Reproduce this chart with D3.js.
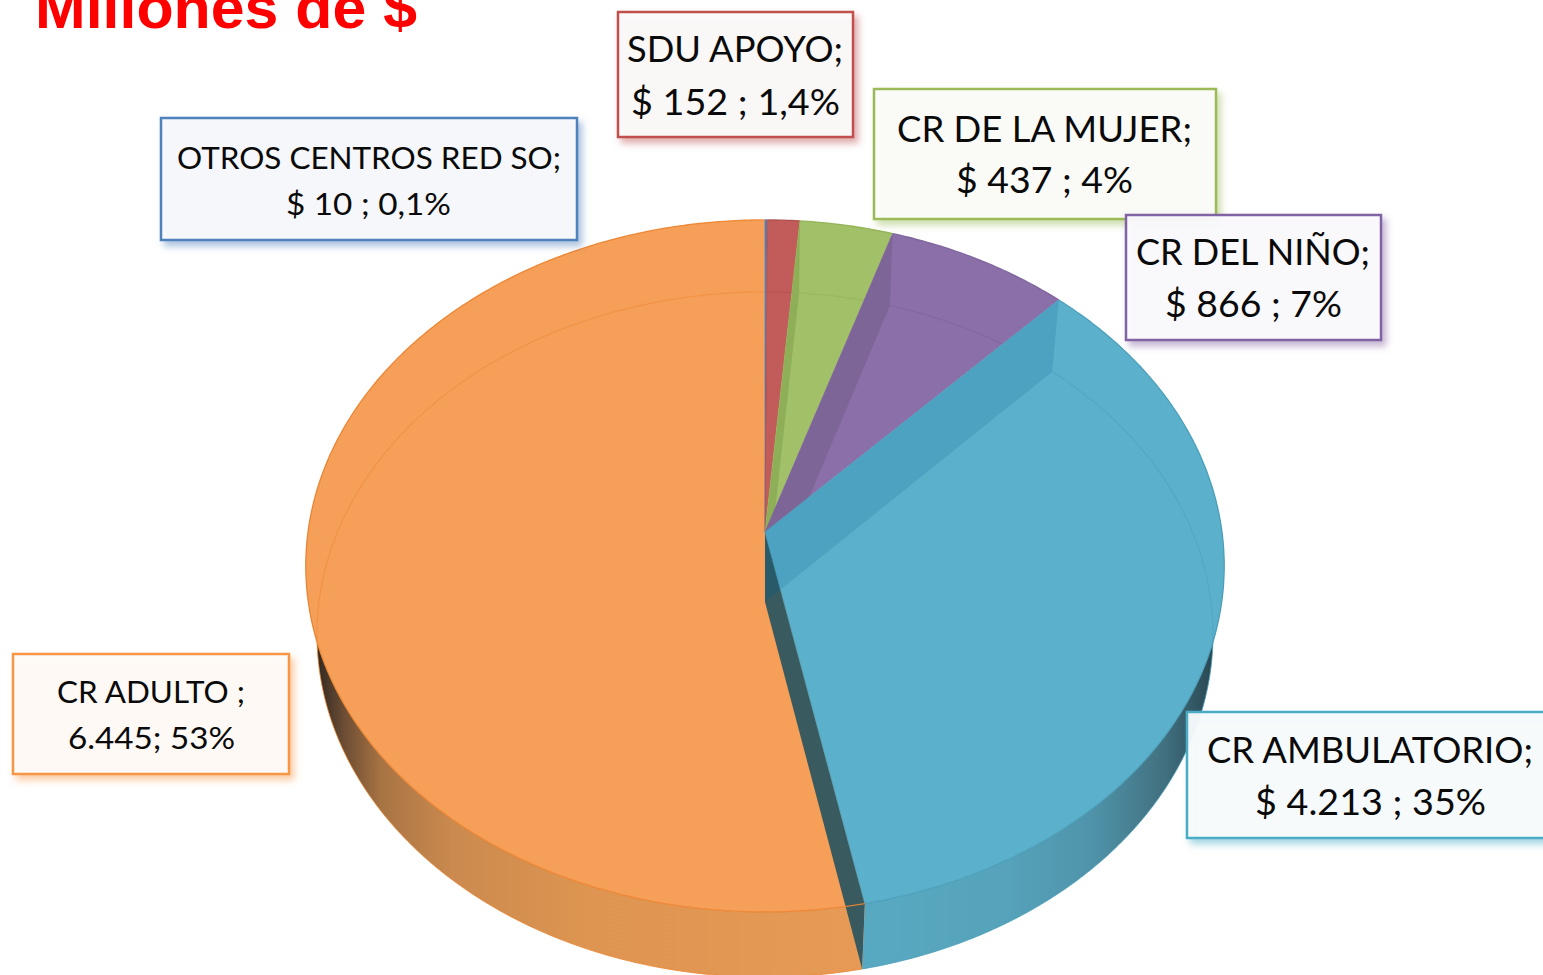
<!DOCTYPE html>
<html><head><meta charset="utf-8">
<script src="https://cdn.jsdelivr.net/npm/d3@7"></script>
<style>html,body{margin:0;padding:0;background:#fff;overflow:hidden}svg{display:block}</style>
</head><body><svg id="c" width="1543" height="975"></svg>
<script>
const categories = ["OTROS CENTROS RED SO","SDU APOYO","CR DE LA MUJER","CR DEL NIÑO","CR AMBULATORIO","CR ADULTO"];
const values = [10,152,437,866,4213,6445];
const labelLine1 = ["OTROS CENTROS RED SO;","SDU APOYO;","CR DE LA MUJER;","CR DEL NIÑO;","CR AMBULATORIO;","CR ADULTO ;"];
const labelLine2 = ["$ 10 ; 0,1%","$ 152 ; 1,4%","$ 437 ; 4%","$ 866 ; 7%","$ 4.213 ; 35%","6.445; 53%"];
const titleText = "Millones de $";

// style + layout (not data)
const topColor  = ["#4f81bd","#c25c5a","#a2c068","#8a6fa8","#5bb1cc","#f69f58"];
const bandColor = ["#3f6ca3","#b0504e","#8fae58","#7d6597","#4ca2c0","#f69f58"];
const rimColor  = ["#4f81bd","#a84a48","#8fb050","#7a5f98","#4a9db8","#ec8430"];
const borderColor=["#4f81bd","#c0504d","#9bbb59","#8064a2","#4bacc6","#f79646"];
const boxFill   = ["#f7f9fb","#fbfafa","#fcfcfa","#fbfafd","#f8fbfc","#fefbf7"];
const boxes = [
 {x:161,y:118,w:416,h:122,fs:30,b1:169,b2:215,x1:[177,561],x2:[286,451]},
 {x:618,y:12, w:235,h:125,fs:37,b1:62, b2:115,x1:[627,843],x2:[631,840]},
 {x:874,y:89, w:342,h:130,fs:37,b1:142,b2:193,x1:[897,1192],x2:[956,1133]},
 {x:1126,y:215,w:255,h:125,fs:37,b1:265,b2:317,x1:[1136,1370],x2:[1165,1342]},
 {x:1187,y:712,w:370,h:126,fs:37,b1:763,b2:815,x1:[1207,1533],x2:[1255,1486]},
 {x:13, y:654,w:276,h:120,fs:31,b1:703,b2:749,x1:[57,245],x2:[68,235]}
];
const boxOrder = [0,1,2,3,5,4];

// perspective projection of the two circular faces of the pie
const upper = {cx:765,cy:532,A:342.7,B:457,k:0.098};
const lower = {cx:765,cy:602,A:339.5,B:446,k:0.095};
const proj = (f,a)=>{const X=Math.sin(a),Y=Math.cos(a),w=1+f.k*Y;return [f.cx+f.B*X/w,f.cy-f.A*Y/w];};
const arcPts = (f,a0,a1)=>{const n=Math.max(2,Math.ceil(Math.abs(a1-a0)/0.01));return d3.range(n+1).map(i=>proj(f,a0+(a1-a0)*i/n));};
const line = d3.line();
const wedge = (f,a0,a1)=>line([[f.cx,f.cy],...arcPts(f,a0,a1)])+"Z";
const wallQuad = a=>line([[upper.cx,upper.cy],proj(upper,a),proj(lower,a),[lower.cx,lower.cy]])+"Z";
const strip = (a0,a1)=>line([...arcPts(upper,a0,a1),...arcPts(lower,a1,a0)])+"Z";

const slices = d3.pie().value(d=>d).sort(null).startAngle(0).endAngle(2*Math.PI)(values);
const svg = d3.select("#c");
const defs = svg.append("defs");

const grad=(id,x1,x2,stops)=>{const g=defs.append("linearGradient").attr("id",id).attr("gradientUnits","userSpaceOnUse")
  .attr("x1",x1).attr("x2",x2).attr("y1",0).attr("y2",0);
  stops.forEach(s=>g.append("stop").attr("offset",s[0]).attr("stop-color",s[1]));};
grad("wallOrange",316,862,[[0,"#2e2722"],[0.05,"#6b4c33"],[0.12,"#a87444"],[0.25,"#cb8a4e"],[0.5,"#de9551"],[1,"#e69a55"]]);
grad("wallBlue",862,1218,[[0,"#57a9c1"],[0.4,"#56a3bb"],[0.65,"#4f93a9"],[0.85,"#41707f"],[1,"#27434e"]]);

const shadow=(id,color)=>{const f=defs.append("filter").attr("id",id).attr("x","-10%").attr("y","-15%").attr("width","125%").attr("height","135%");
  f.append("feDropShadow").attr("dx",4).attr("dy",5).attr("stdDeviation",3.5).attr("flood-color",color).attr("flood-opacity",0.5);};
borderColor.forEach((c,i)=>shadow("sh"+i,c));

slices.forEach((s,i)=>{
  defs.append("clipPath").attr("id","w"+i).append("path").attr("d",wedge(upper,s.startAngle,s.endAngle));
});
// blue's start wall also shows behind its dark end wall
const amb = slices[4];
const cpAmb = defs.append("clipPath").attr("id","ambBand");
cpAmb.append("path").attr("d",wedge(upper,amb.startAngle,amb.endAngle));
cpAmb.append("path").attr("d",wallQuad(amb.endAngle));

// outer walls
const wallFill = {4:"url(#wallBlue)",5:"url(#wallOrange)"};
svg.append("g").selectAll("path").data([slices[4],slices[5]]).join("path")
  .attr("d",d=>strip(d.startAngle,d.endAngle))
  .attr("fill",d=>wallFill[d.index]);
// outer edge of the lower face
svg.append("g").selectAll("path").data([slices[4],slices[5]]).join("path")
  .attr("d",d=>line(arcPts(lower,d.startAngle,d.endAngle)))
  .attr("fill","none").attr("stroke",d=>rimColor[d.index]).attr("stroke-width",1).attr("stroke-opacity",0.8);

// top faces
svg.append("g").selectAll("path").data(slices).join("path")
  .attr("d",d=>wedge(upper,d.startAngle,d.endAngle))
  .attr("fill",d=>topColor[d.index]);

// start walls seen through the translucent top
svg.append("g").selectAll("path").data(slices.slice(0,5)).join("path")
  .attr("d",d=>wallQuad(d.startAngle))
  .attr("clip-path",d=>d.index===4?"url(#ambBand)":`url(#w${d.index})`)
  .attr("fill",d=>bandColor[d.index]);

// lower rim seen through the top
svg.append("g").selectAll("path").data(slices).join("path")
  .attr("d",d=>line(arcPts(lower,d.startAngle,d.endAngle)))
  .attr("clip-path",d=>`url(#w${d.index})`)
  .attr("fill","none").attr("stroke",d=>rimColor[d.index]).attr("stroke-width",1.2).attr("stroke-opacity",0.45);

// dark end wall of the ambulatory slice, in front of the adult slice
svg.append("path").attr("d",wallQuad(amb.endAngle)).attr("fill","#25525f").attr("fill-opacity",0.9);

// slice edges and top rim
svg.append("g").selectAll("path").data(slices.slice(0,5)).join("path")
  .attr("d",d=>line([proj(upper,d.startAngle),[upper.cx,upper.cy]]))
  .attr("fill","none").attr("stroke",d=>rimColor[d.index]).attr("stroke-width",1).attr("stroke-opacity",0.7);
svg.append("path").attr("d",line([proj(upper,amb.endAngle),[upper.cx,upper.cy]]))
  .attr("fill","none").attr("stroke",rimColor[4]).attr("stroke-width",1).attr("stroke-opacity",0.7);
svg.append("g").selectAll("path").data(slices).join("path")
  .attr("d",d=>line(arcPts(upper,d.startAngle,d.endAngle)))
  .attr("fill","none").attr("stroke",d=>rimColor[d.index]).attr("stroke-width",1.3).attr("stroke-opacity",0.9);

// title
svg.append("text").text(titleText).attr("x",35).attr("y",28)
  .attr("font-family","'Liberation Sans',Arial,sans-serif").attr("font-weight",700).attr("font-size",60)
  .attr("fill","#ff0000").attr("textLength",382).attr("lengthAdjust","spacingAndGlyphs");

// labels
const lab = svg.append("g").selectAll("g").data(boxOrder).join("g");
lab.append("rect")
  .attr("x",i=>boxes[i].x).attr("y",i=>boxes[i].y).attr("width",i=>boxes[i].w).attr("height",i=>boxes[i].h)
  .attr("fill",i=>boxFill[i]).attr("fill-opacity",0.95)
  .attr("stroke",i=>borderColor[i]).attr("stroke-width",2.5)
  .attr("filter",i=>`url(#sh${i})`);
const addText=(arr,by,xk)=>lab.append("text").text(i=>arr[i])
  .attr("x",i=>boxes[i][xk][0]).attr("y",i=>boxes[i][by])
  .attr("textLength",i=>boxes[i][xk][1]-boxes[i][xk][0]).attr("lengthAdjust","spacingAndGlyphs")
  .attr("font-family","Lato,'Open Sans',sans-serif").attr("font-size",i=>boxes[i].fs).attr("fill","#0a0a0a");
addText(labelLine1,"b1","x1");
addText(labelLine2,"b2","x2");
</script></body></html>
